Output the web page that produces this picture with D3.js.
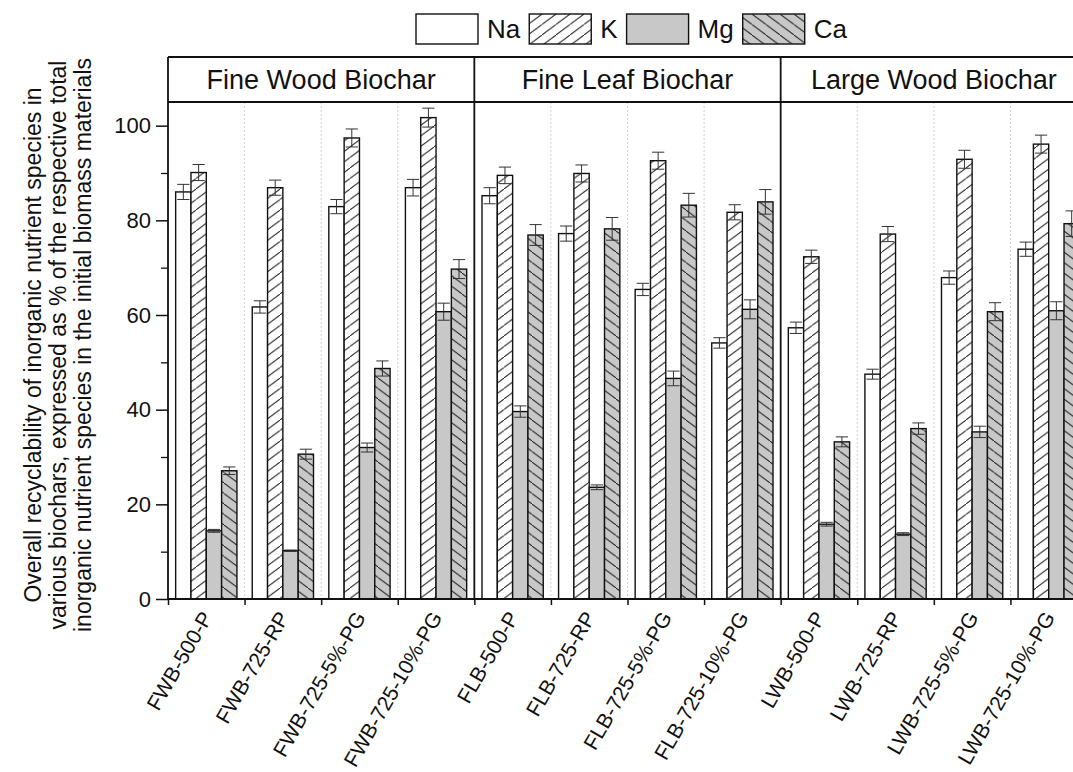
<!DOCTYPE html>
<html>
<head>
<meta charset="utf-8">
<script src="https://cdn.jsdelivr.net/npm/d3@7"></script>
<style>
  body { margin: 0; background: #fff; }
  svg { display: block; font-family: "Liberation Sans", Arial, sans-serif; }
</style>
</head>
<body>
<div id="chart"></div>
<script>
// sample names, one group of four bars each
const samples = ["FWB-500-P", "FWB-725-RP", "FWB-725-5%-PG", "FWB-725-10%-PG",
  "FLB-500-P", "FLB-725-RP", "FLB-725-5%-PG", "FLB-725-10%-PG",
  "LWB-500-P", "LWB-725-RP", "LWB-725-5%-PG", "LWB-725-10%-PG"];
const panels = ["Fine Wood Biochar", "Fine Leaf Biochar", "Large Wood Biochar"];
const species = ["Na", "K", "Mg", "Ca"];

// recyclability (%)
const naValues = [86.0, 61.7, 82.9, 86.9, 85.2, 77.2, 65.4, 54.1, 57.3, 47.5, 67.9, 73.9];
const kValues = [90.1, 86.9, 97.4, 101.7, 89.5, 89.9, 92.6, 81.7, 72.3, 77.1, 92.9, 96.1];
const mgValues = [14.4, 10.2, 32.0, 60.7, 39.6, 23.6, 46.6, 61.2, 15.8, 13.7, 35.3, 60.9];
const caValues = [27.1, 30.6, 48.7, 69.7, 76.9, 78.2, 83.2, 83.9, 33.2, 36.0, 60.7, 79.3];

// error bar half widths
const naErr = [1.6, 1.3, 1.5, 1.75, 1.7, 1.6, 1.3, 1.1, 1.2, 1.05, 1.4, 1.5];
const kErr = [1.7, 1.6, 1.9, 2.0, 1.75, 1.8, 1.8, 1.6, 1.4, 1.6, 1.9, 1.9];
const mgErr = [0.3, 0.15, 0.95, 1.8, 1.2, 0.5, 1.55, 2.0, 0.4, 0.3, 1.2, 1.9];
const caErr = [0.8, 1.05, 1.6, 2.0, 2.2, 2.4, 2.5, 2.6, 1.05, 1.2, 1.9, 2.7];

const yTicks = [0, 20, 40, 60, 80, 100];
const yMinorTicks = [10, 30, 50, 70, 90];

const yTitle = ["Overall recyclability of inorganic nutrient species in",
  "various biochars, expressed as % of the respective total",
  "inorganic nutrient species in the initial biomass materials"];

let width = 1073, height = 772,
  margin = ({ top: 57, right: 1087, bottom: 599, left: 168 }),
  headerBottom = 102;

const values = [naValues, kValues, mgValues, caValues];
const errs = [naErr, kErr, mgErr, caErr];

let data = [];
samples.forEach((s, i) => {
  species.forEach((sp, j) => {
    data.push({ sample: s, species: sp, value: values[j][i], err: errs[j][i] });
  });
});

const svg = d3.select("#chart")
  .append("svg")
  .attr("width", width)
  .attr("height", height);

// hatch patterns
const defs = svg.append("defs");
let pw = 14, ph = 10.5;

let pK = defs.append("pattern")
  .attr("id", "hatchK")
  .attr("patternUnits", "userSpaceOnUse")
  .attr("width", pw).attr("height", ph);
pK.append("rect").attr("width", pw).attr("height", ph).attr("fill", "#fff");
pK.append("path")
  .attr("d", `M0,${ph} L${pw},0 M${-pw},${2 * ph} L0,${ph} M${pw},0 L${2 * pw},${-ph}`)
  .attr("stroke", "#222").attr("stroke-width", 1);

let pCa = defs.append("pattern")
  .attr("id", "hatchCa")
  .attr("patternUnits", "userSpaceOnUse")
  .attr("width", pw).attr("height", ph);
pCa.append("rect").attr("width", pw).attr("height", ph).attr("fill", "#c8c8c8");
pCa.append("path")
  .attr("d", `M0,0 L${pw},${ph} M${-pw},${-ph} L0,0 M${pw},${ph} L${2 * pw},${2 * ph}`)
  .attr("stroke", "#222").attr("stroke-width", 1);

const fills = { Na: "#fff", K: "url(#hatchK)", Mg: "#c8c8c8", Ca: "url(#hatchCa)" };

let x = d3.scaleBand()
  .domain(samples)
  .range([margin.left, margin.right]);

let xSub = d3.scaleBand()
  .domain(species)
  .range([0, x.bandwidth()])
  .paddingInner(0)
  .paddingOuter(0.5);

// index scale for group boundaries
let xi = d3.scaleLinear()
  .domain([0, samples.length])
  .range([margin.left, margin.right]);

let y = d3.scaleLinear()
  .domain([0, 105])
  .range([margin.bottom, headerBottom]);

// dotted lines between groups
const grid = [1, 2, 3, 5, 6, 7, 9, 10, 11];
svg.append("g")
  .selectAll("line")
  .data(grid)
  .join("line")
  .attr("x1", d => xi(d)).attr("x2", d => xi(d))
  .attr("y1", headerBottom).attr("y2", margin.bottom)
  .attr("stroke", "#d0d0d0")
  .attr("stroke-dasharray", "2,2");

// bars
let g = svg.append("g")
  .selectAll("g")
  .data(data)
  .join("g");

g.append("rect")
  .attr("x", d => x(d.sample) + xSub(d.species))
  .attr("y", d => y(d.value))
  .attr("width", xSub.bandwidth())
  .attr("height", d => y(0) - y(d.value))
  .attr("fill", d => fills[d.species])
  .attr("stroke", "#111")
  .attr("stroke-width", 1.4);

// error bars
let capW = xSub.bandwidth() * 0.8;
g.append("path")
  .attr("d", d => {
    let cx = x(d.sample) + xSub(d.species) + xSub.bandwidth() / 2;
    let y1 = y(d.value - d.err), y2 = y(d.value + d.err);
    return `M${cx},${y1}V${y2}M${cx - capW / 2},${y1}h${capW}M${cx - capW / 2},${y2}h${capW}`;
  })
  .attr("fill", "none")
  .attr("stroke", "#333")
  .attr("stroke-width", 1);

// y axis
svg.append("g")
  .attr("transform", `translate(${margin.left},0)`)
  .call(d3.axisLeft(y).tickValues(yTicks).tickSize(12).tickPadding(5))
  .call(g => g.select(".domain").remove())
  .call(g => g.selectAll(".tick line").attr("stroke", "#111").attr("stroke-width", 1.5))
  .call(g => g.selectAll(".tick text")
    .attr("font-size", 22)
    .attr("fill", "#111")
    .attr("font-family", "Liberation Sans, Arial, sans-serif"));

svg.append("g")
  .attr("transform", `translate(${margin.left},0)`)
  .call(d3.axisLeft(y).tickValues(yMinorTicks).tickSize(7).tickFormat(""))
  .call(g => g.select(".domain").remove())
  .call(g => g.selectAll(".tick line").attr("stroke", "#111").attr("stroke-width", 1.3));

// x axis ticks at group edges
svg.append("g")
  .attr("transform", `translate(0,${margin.bottom})`)
  .call(d3.axisBottom(xi).tickValues(d3.range(samples.length + 1)).tickSize(6).tickFormat(""))
  .call(g => g.select(".domain").remove())
  .call(g => g.selectAll(".tick line").attr("stroke", "#111").attr("stroke-width", 1.5));

// x labels, rotated
svg.append("g")
  .selectAll("text")
  .data(samples)
  .join("text")
  .attr("transform", d => `translate(${x(d) + x.bandwidth() / 2 + 7},${margin.bottom + 18}) rotate(-60)`)
  .attr("text-anchor", "end")
  .attr("font-size", 21)
  .attr("fill", "#111")
  .text(d => d);

// frame
const frame = svg.append("g").attr("stroke", "#111").attr("stroke-width", 1.8).attr("fill", "none");
frame.append("line").attr("x1", margin.left).attr("x2", margin.right).attr("y1", margin.bottom).attr("y2", margin.bottom);
frame.append("line").attr("x1", margin.left).attr("x2", margin.right).attr("y1", margin.top).attr("y2", margin.top);
frame.append("line").attr("x1", margin.left).attr("x2", margin.right).attr("y1", headerBottom).attr("y2", headerBottom);
for (let k = 0; k <= 3; k++) {
  frame.append("line")
    .attr("x1", xi(k * 4)).attr("x2", xi(k * 4))
    .attr("y1", margin.top).attr("y2", margin.bottom);
}

// panel headers
svg.append("g")
  .selectAll("text")
  .data(panels)
  .join("text")
  .attr("x", (d, i) => (xi(i * 4) + xi(i * 4 + 4)) / 2)
  .attr("y", (margin.top + headerBottom) / 2)
  .attr("dominant-baseline", "central")
  .attr("text-anchor", "middle")
  .attr("font-size", 27)
  .attr("fill", "#111")
  .text(d => d);

// y title
svg.append("g")
  .selectAll("text")
  .data(yTitle)
  .join("text")
  .attr("transform", (d, i) => `translate(${41 + i * 25},345) rotate(-90)`)
  .attr("text-anchor", "middle")
  .attr("font-size", 23)
  .attr("fill", "#111")
  .text(d => d);

// legend
let legend = svg.append("g").attr("transform", "translate(416,14)");
let lx = 0;
species.forEach(sp => {
  legend.append("rect")
    .attr("x", lx).attr("y", 0)
    .attr("width", 62).attr("height", 30)
    .attr("fill", fills[sp])
    .attr("stroke", "#111")
    .attr("stroke-width", 1.4);
  let t = legend.append("text")
    .attr("x", lx + 71)
    .attr("y", 24)
    .attr("font-size", 26)
    .attr("fill", "#111")
    .text(sp);
  lx += 71 + t.node().getComputedTextLength() + 9;
});
</script>
</body>
</html>
